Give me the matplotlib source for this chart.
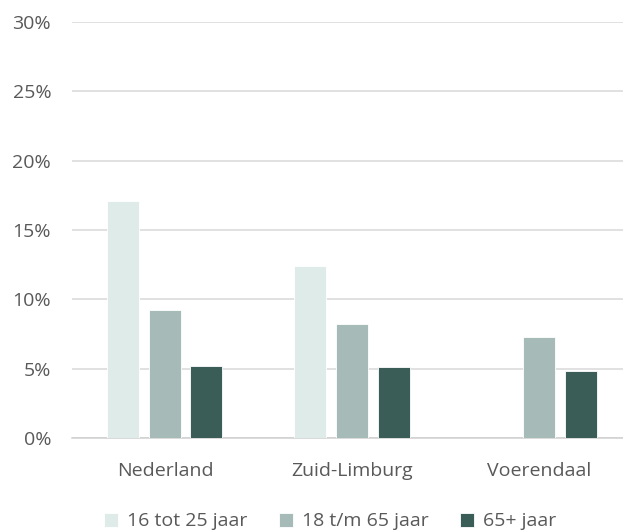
import numpy as np
import matplotlib.pyplot as plt
from matplotlib.ticker import FuncFormatter

regions = ["Nederland", "Zuid-Limburg", "Voerendaal"]
series = ["16 tot 25 jaar", "18 t/m 65 jaar", "65+ jaar"]
young = [17.1, 12.4, np.nan]
adult = [9.2, 8.2, 7.3]
elderly = [5.2, 5.1, 4.8]
colors = ["#DEEBE8", "#A6BAB7", "#3A5E57"]

plt.rcParams["font.family"] = ["Open Sans", "DejaVu Sans"]

fig = plt.figure(figsize=(6.23, 5.32), dpi=100)
ax = fig.add_axes([72 / 623, 94 / 532, 1 - 72 / 623, (438 - 22) / 532])

x = np.arange(len(regions))
width = 0.171
offset = 0.222
for i, (vals, label) in enumerate(zip([young, adult, elderly], series)):
    ax.bar(x + (i - 1) * offset, vals, width, color=colors[i], label=label,
           edgecolor="white", linewidth=0.6, zorder=3)

ax.set_ylim(0, 30)
ax.set_yticks(range(0, 31, 5))
ax.yaxis.set_major_formatter(FuncFormatter(lambda v, _: f"{v:.0f}%"))
ax.set_xlim(-0.497, 2.449)
ax.set_xticks(x)
ax.set_xticklabels(regions)

ax.grid(axis="y", color="#D9D9D9", linewidth=1.1, zorder=0)
for side in ["top", "right", "left"]:
    ax.spines[side].set_visible(False)
ax.spines["bottom"].set_color("#D0D0D0")
ax.spines["bottom"].set_linewidth(1.1)
ax.tick_params(axis="both", length=0, colors="#595959", labelsize=14)
ax.tick_params(axis="x", pad=17)
ax.tick_params(axis="y", pad=15)

fig.legend(loc="lower center", bbox_to_anchor=(0.53, -0.03), ncol=3,
           frameon=False, fontsize=14, labelcolor="#595959",
           handlelength=0.75, handleheight=0.75, handletextpad=0.45,
           columnspacing=1.6)

fig.savefig("out.png", dpi=100)
